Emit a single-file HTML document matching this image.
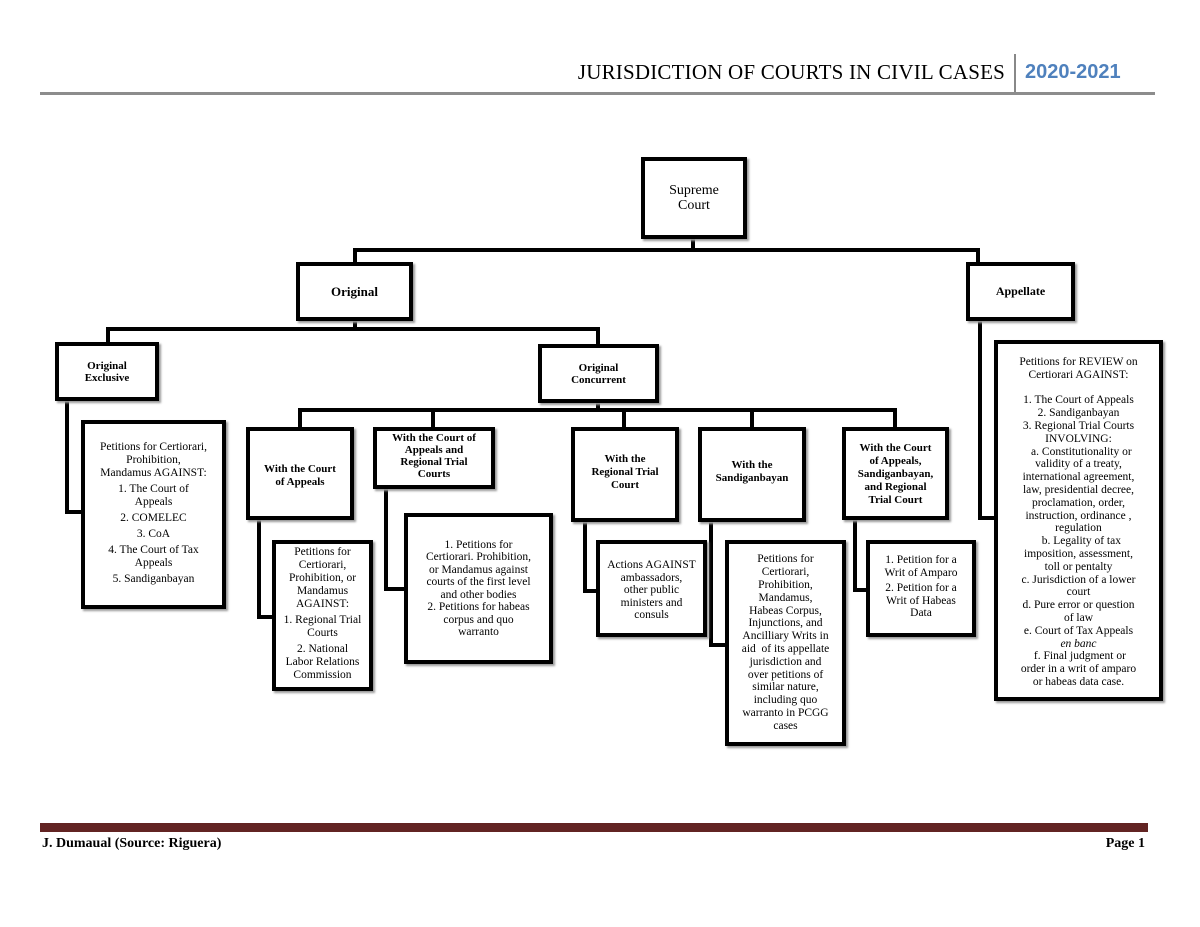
<!DOCTYPE html>
<html><head><meta charset="utf-8"><style>
body{margin:0;width:1200px;height:927px;background:#fff;position:relative;overflow:hidden;font-family:"Liberation Serif",serif;}
.b{position:absolute;border:4px solid #000;box-sizing:border-box;display:flex;align-items:center;justify-content:center;text-align:center;font-size:11.5px;line-height:13px;color:#000;background:#fff;box-shadow:2px 2px 2px #999;}
.h{font-weight:bold;}
.l{position:absolute;background:#000;}
p{margin:0 0 3px 0}
</style></head><body>
<div style="position:absolute;right:195px;top:60px;font-size:21px;letter-spacing:0.2px">JURISDICTION OF COURTS IN CIVIL CASES</div>
<div style="position:absolute;left:1014px;top:54px;width:2px;height:38px;background:#888"></div>
<div style="position:absolute;left:1025px;top:61px;font-family:'Liberation Sans',sans-serif;font-weight:bold;font-size:20px;color:#4f81bd">2020-2021</div>
<div style="position:absolute;left:40px;top:92px;width:1115px;height:3px;background:#8c8c8c"></div>

<!-- connectors -->
<div class="l" style="left:691px;top:236px;width:4px;height:16px"></div>
<div class="l" style="left:353px;top:248px;width:627px;height:4px"></div>
<div class="l" style="left:353px;top:248px;width:4px;height:16px"></div>
<div class="l" style="left:976px;top:248px;width:4px;height:16px"></div>
<div class="l" style="left:353px;top:318px;width:4px;height:12px"></div>
<div class="l" style="left:106px;top:327px;width:494px;height:4px"></div>
<div class="l" style="left:106px;top:327px;width:4px;height:16px"></div>
<div class="l" style="left:596px;top:327px;width:4px;height:18px"></div>
<div class="l" style="left:596px;top:400px;width:4px;height:10px"></div>
<div class="l" style="left:298px;top:408px;width:599px;height:4px"></div>
<div class="l" style="left:298px;top:408px;width:4px;height:20px"></div>
<div class="l" style="left:431px;top:408px;width:4px;height:20px"></div>
<div class="l" style="left:622px;top:408px;width:4px;height:20px"></div>
<div class="l" style="left:750px;top:408px;width:4px;height:20px"></div>
<div class="l" style="left:893px;top:408px;width:4px;height:20px"></div>
<!-- leaf connectors -->
<div class="l" style="left:65px;top:398px;width:4px;height:116px"></div>
<div class="l" style="left:65px;top:510px;width:18px;height:4px"></div>
<div class="l" style="left:257px;top:518px;width:4px;height:101px"></div>
<div class="l" style="left:257px;top:615px;width:17px;height:4px"></div>
<div class="l" style="left:384px;top:486px;width:4px;height:105px"></div>
<div class="l" style="left:384px;top:587px;width:22px;height:4px"></div>
<div class="l" style="left:583px;top:520px;width:4px;height:73px"></div>
<div class="l" style="left:583px;top:589px;width:15px;height:4px"></div>
<div class="l" style="left:709px;top:520px;width:4px;height:127px"></div>
<div class="l" style="left:709px;top:643px;width:18px;height:4px"></div>
<div class="l" style="left:853px;top:518px;width:4px;height:74px"></div>
<div class="l" style="left:853px;top:588px;width:15px;height:4px"></div>
<div class="l" style="left:978px;top:318px;width:4px;height:202px"></div>
<div class="l" style="left:978px;top:516px;width:18px;height:4px"></div>

<!-- boxes -->
<div class="b" style="left:641px;top:157px;width:106px;height:82px;font-family:'Liberation Serif',serif;font-size:14px;line-height:15px">Supreme<br>Court</div>
<div class="b h" style="left:296px;top:262px;width:117px;height:59px;font-size:13px">Original</div>
<div class="b h" style="left:966px;top:262px;width:109px;height:59px;font-size:12px">Appellate</div>
<div class="b h" style="left:55px;top:342px;width:104px;height:59px;font-size:11px;line-height:12px">Original<br>Exclusive</div>
<div class="b h" style="left:538px;top:344px;width:121px;height:59px;font-size:11px;line-height:12px">Original<br>Concurrent</div>

<div class="b h" style="left:246px;top:427px;width:108px;height:93px;font-size:11px;line-height:13px;align-items:flex-start;padding-top:32px">With the Court<br>of Appeals</div>
<div class="b h" style="left:373px;top:427px;width:122px;height:62px;font-size:11px;line-height:12px;align-items:flex-start;padding-top:1px">With the Court of<br>Appeals and<br>Regional Trial<br>Courts</div>
<div class="b h" style="left:571px;top:427px;width:108px;height:95px;font-size:11px;line-height:13px;align-items:flex-start;padding-top:22px">With the<br>Regional Trial<br>Court</div>
<div class="b h" style="left:698px;top:427px;width:108px;height:95px;font-size:11px;line-height:13px;align-items:flex-start;padding-top:28px">With the<br>Sandiganbayan</div>
<div class="b h" style="left:842px;top:427px;width:107px;height:93px;font-size:11px;line-height:13px;align-items:flex-start;padding-top:11px">With the Court<br>of Appeals,<br>Sandiganbayan,<br>and Regional<br>Trial Court</div>

<div class="b" style="left:81px;top:420px;width:145px;height:189px;font-size:11.5px"><div><p>Petitions for Certiorari,<br>Prohibition,<br>Mandamus AGAINST:</p><p>1. The Court of<br>Appeals</p><p>2. COMELEC</p><p>3. CoA</p><p>4. The Court of Tax<br>Appeals</p><p>5. Sandiganbayan</p></div></div>
<div class="b" style="left:272px;top:540px;width:101px;height:151px;font-size:11.5px;line-height:13px"><div><p>Petitions for<br>Certiorari,<br>Prohibition, or<br>Mandamus<br>AGAINST:</p><p>1. Regional Trial<br>Courts</p><p>2. National<br>Labor Relations<br>Commission</p></div></div>
<div class="b" style="left:404px;top:513px;width:149px;height:151px;font-size:11.5px;line-height:12.5px"><div>1. Petitions for<br>Certiorari. Prohibition,<br>or Mandamus against<br>courts of the first level<br>and other bodies<br>2. Petitions for habeas<br>corpus and quo<br>warranto</div></div>
<div class="b" style="left:596px;top:540px;width:111px;height:97px;font-size:11.5px;line-height:12.5px;align-items:flex-start;padding-top:15px"><div>Actions AGAINST<br>ambassadors,<br>other public<br>ministers and<br>consuls</div></div>
<div class="b" style="left:725px;top:540px;width:121px;height:206px;font-size:11.5px;line-height:12.8px"><div>Petitions for<br>Certiorari,<br>Prohibition,<br>Mandamus,<br>Habeas Corpus,<br>Injunctions, and<br>Ancilliary Writs in<br>aid&nbsp; of its appellate<br>jurisdiction and<br>over petitions of<br>similar nature,<br>including quo<br>warranto in PCGG<br>cases</div></div>
<div class="b" style="left:866px;top:540px;width:110px;height:97px;font-size:11.5px;line-height:12.5px;align-items:flex-start;padding-top:10px"><div><p>1. Petition for a<br>Writ of Amparo</p><p>2. Petition for a<br>Writ of Habeas<br>Data</p></div></div>
<div class="b" style="left:994px;top:340px;width:169px;height:361px;font-size:11.5px;line-height:12.8px;align-items:flex-start;padding-top:12px"><div>Petitions for REVIEW on<br>Certiorari AGAINST:<br><br>1. The Court of Appeals<br>2. Sandiganbayan<br>3. Regional Trial Courts<br>INVOLVING:<br>&nbsp;&nbsp;a. Constitutionality or<br>validity of a treaty,<br>international agreement,<br>law, presidential decree,<br>proclamation, order,<br>instruction, ordinance ,<br>regulation<br>&nbsp;&nbsp;b. Legality of tax<br>imposition, assessment,<br>toll or pentalty<br>c. Jurisdiction of a lower<br>court<br>d. Pure error or question<br>of law<br>e. Court of Tax Appeals<br><i>en banc</i><br>&nbsp;f. Final judgment or<br>order in a writ of amparo<br>or habeas data case.</div></div>

<div style="position:absolute;left:40px;top:823px;width:1108px;height:9px;background:#622423"></div>
<div style="position:absolute;left:42px;top:836px;font-size:14px;font-weight:bold">J. Dumaual (Source: Riguera)</div>
<div style="position:absolute;right:55px;top:836px;font-size:14px;font-weight:bold">Page 1</div>
</body></html>
